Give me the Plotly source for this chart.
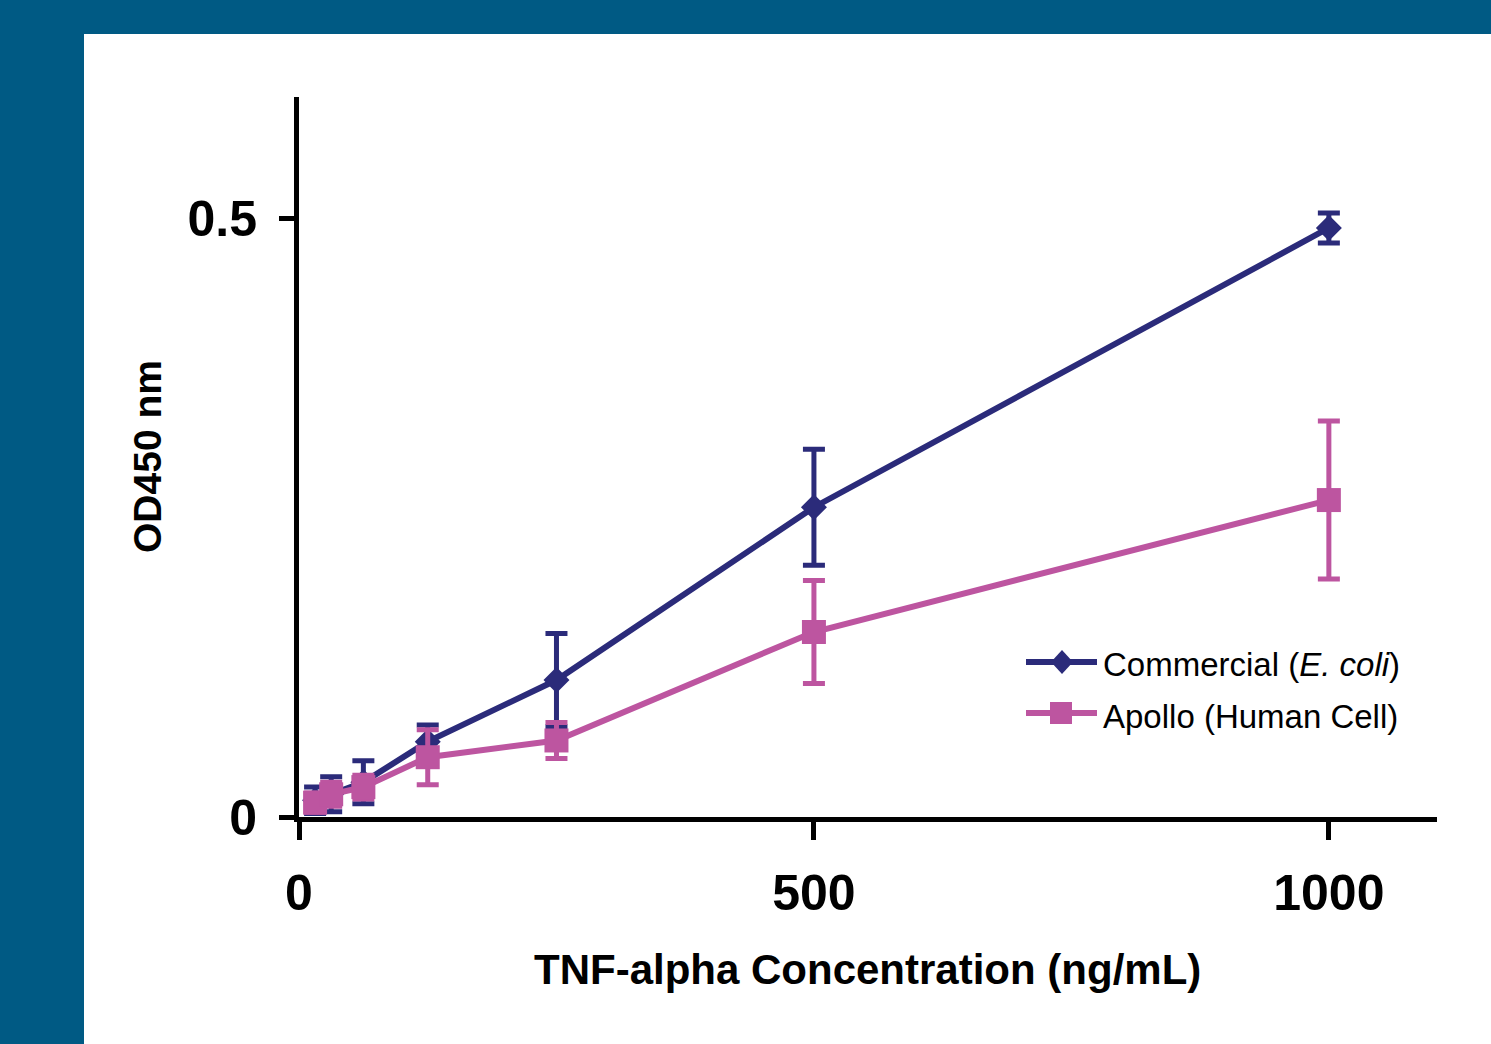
import plotly.graph_objects as go

# ---- data ----
concentration = [15.625, 31.25, 62.5, 125, 250, 500, 1000]
commercial_od = [0.014, 0.019, 0.029, 0.063, 0.1145, 0.259, 0.4925]
commercial_err = [0.011, 0.0146, 0.018, 0.014, 0.039, 0.0485, 0.0125]
apollo_od = [0.012, 0.019, 0.025, 0.050, 0.064, 0.1547, 0.265]
apollo_err = [0.008, 0.010, 0.010, 0.023, 0.015, 0.043, 0.066]
series_names = ["Commercial (<i>E. coli</i>)", "Apollo (Human Cell)"]
x_ticks = [0, 500, 1000]
x_ticktext = ["0", "500", "1000"]
y_ticks = [0, 0.5]
y_ticktext = ["0", "0.5"]

BLUE = "#2b2b7a"
PINK = "#bd55a0"
FRAME = "#005a84"
FONT = "Liberation Sans, Arial, sans-serif"

# plot-area pixel geometry (for the hand-drawn legend / panel)
L, T, W, H = 299, 97, 1138, 720
def px(x):
    return (x - L) / W
def py(y):
    return (T + H - y) / H

fig = go.Figure()
fig.add_trace(go.Scatter(
    x=concentration, y=commercial_od, mode="lines+markers",
    line=dict(color=BLUE, width=6),
    marker=dict(symbol="diamond", size=20, color=BLUE),
    error_y=dict(type="data", array=commercial_err, visible=True,
                 color=BLUE, thickness=5, width=11),
    cliponaxis=False, showlegend=False, name="Commercial (E. coli)"))
fig.add_trace(go.Scatter(
    x=concentration, y=apollo_od, mode="lines+markers",
    line=dict(color=PINK, width=6),
    marker=dict(symbol="square", size=24, color=PINK),
    error_y=dict(type="data", array=apollo_err, visible=True,
                 color=PINK, thickness=5, width=11),
    cliponaxis=False, showlegend=False, name="Apollo (Human Cell)"))

shapes = [
    # white panel on the blue frame
    dict(type="rect", xref="paper", yref="paper", layer="below",
         x0=px(84), x1=px(1600), y0=py(1100), y1=py(34),
         fillcolor="white", line=dict(width=0)),
    # legend row 1: line + diamond
    dict(type="line", xref="paper", yref="paper",
         x0=px(1026), x1=px(1097), y0=py(662), y1=py(662),
         line=dict(color=BLUE, width=6)),
    dict(type="path", xref="paper", yref="paper",
         path=(f"M {px(1051)} {py(662)} L {px(1062)} {py(650)} "
               f"L {px(1073)} {py(662)} L {px(1062)} {py(674)} Z"),
         fillcolor=BLUE, line=dict(width=0)),
    # legend row 2: line + square
    dict(type="line", xref="paper", yref="paper",
         x0=px(1026), x1=px(1097), y0=py(713), y1=py(713),
         line=dict(color=PINK, width=6)),
    dict(type="rect", xref="paper", yref="paper",
         x0=px(1050), x1=px(1072), y0=py(724), y1=py(702),
         fillcolor=PINK, line=dict(width=0)),
]

annotations = [
    dict(text=series_names[0], xref="paper", yref="paper", x=px(1101), y=py(664),
         xanchor="left", yanchor="middle", showarrow=False,
         font=dict(family=FONT, size=33, color="black")),
    dict(text=series_names[1], xref="paper", yref="paper", x=px(1101), y=py(716),
         xanchor="left", yanchor="middle", showarrow=False,
         font=dict(family=FONT, size=33, color="black")),
    dict(text="TNF-alpha Concentration (ng/mL)", xref="paper", yref="paper",
         x=px(867.5), y=py(970), xanchor="center", yanchor="middle", showarrow=False,
         font=dict(family=FONT, size=42, color="black", weight="bold")),
    dict(text="OD450 nm", xref="paper", yref="paper", textangle=-90,
         x=px(147), y=py(457), xanchor="center", yanchor="middle", showarrow=False,
         font=dict(family=FONT, size=39, color="black", weight="bold")),
]

fig.update_layout(
    width=1491, height=1044,
    margin=dict(l=L, r=1491 - L - W, t=T, b=1044 - T - H, pad=0),
    paper_bgcolor=FRAME, plot_bgcolor="white",
    shapes=shapes, annotations=annotations,
    xaxis=dict(range=[0, 1105], tickvals=x_ticks, ticktext=x_ticktext,
               showgrid=False, zeroline=False, showline=True,
               linecolor="black", linewidth=5, ticks="outside",
               ticklen=18, tickwidth=5, tickcolor="black",
               tickfont=dict(family=FONT, size=50, color="black", weight="bold"),
               ticklabelstandoff=10),
    yaxis=dict(range=[0, 0.602], tickvals=y_ticks, ticktext=y_ticktext,
               showgrid=False, zeroline=False, showline=True,
               linecolor="black", linewidth=5, ticks="outside",
               ticklen=15, tickwidth=5, tickcolor="black",
               tickfont=dict(family=FONT, size=50, color="black", weight="bold"),
               ticklabelstandoff=12),
)

fig.write_html(
    "out.html",
    config={"displayModeBar": False},
    post_script=("document.body.style.margin='0';"
                 "document.body.style.background='" + FRAME + "';"),
)
